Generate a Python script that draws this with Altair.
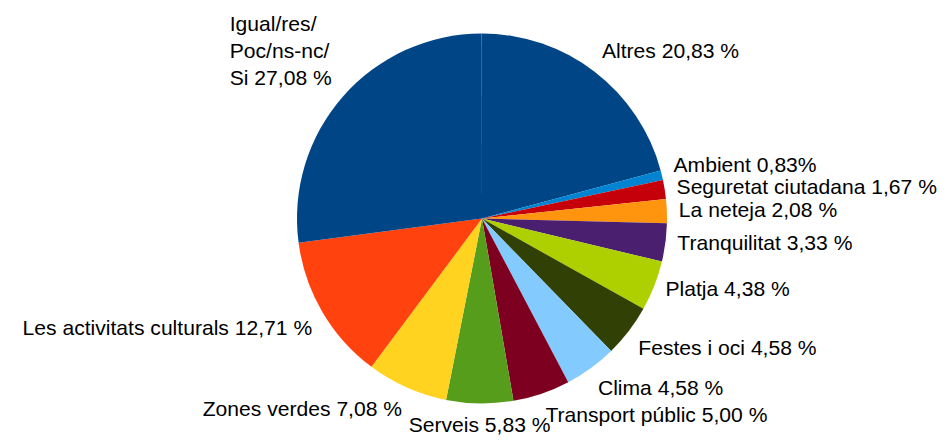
import math
import altair as alt
import pandas as pd

categories = ["Altres", "Ambient", "Seguretat ciutadana", "La neteja", "Tranquilitat",
              "Platja", "Festes i oci", "Clima", "Transport públic", "Serveis",
              "Zones verdes", "Les activitats culturals", "Igual/res/Poc/ns-nc/Si"]
values = [20.83, 0.83, 1.67, 2.08, 3.33, 4.38, 4.58, 4.58, 5.00, 5.83, 7.08, 12.71, 27.08]
labels = ["Altres 20,83 %", "Ambient 0,83%", "Seguretat ciutadana 1,67 %", "La neteja 2,08 %",
          "Tranquilitat 3,33 %", "Platja 4,38 %", "Festes i oci 4,58 %", "Clima 4,58 %",
          "Transport públic 5,00 %", "Serveis 5,83 %", "Zones verdes 7,08 %",
          "Les activitats culturals 12,71 %", "Igual/res/\nPoc/ns-nc/\nSi 27,08 %"]
colors = ["#004586", "#0084d1", "#c5000b", "#ff950e", "#4b1f6f", "#aecf00", "#314004",
          "#83caff", "#7e0021", "#579d1c", "#ffd320", "#ff420e", "#004586"]

# derived: mid position of each slice, and label anchoring side
mids, grps = [], []
cum = 0.0
for v, lab in zip(values, labels):
    m = cum + v / 2
    cum += v
    mids.append(m)
    ang = m / 100 * 2 * math.pi
    s, c = math.sin(ang), math.cos(ang)
    align = "left" if s > 0.1 else ("right" if s < -0.1 else "center")
    if c > 0.5:
        base = "bottom"
    elif c > 0.2:
        base = "alphabetic"
    elif c >= -0.5:
        base = "middle"
    else:
        base = "top"
    if "\n" in lab:
        grps.append("block")
    else:
        grps.append(f"{align}|{base}")

df = pd.DataFrame({"cat": categories, "value": values, "label": labels,
                   "mid": mids, "grp": grps, "idx": list(range(len(values)))})

CX, CY, R, RL = 474, 210.5, 185, 197
FS, LH = 21.1, 27
theta_scale = alt.Scale(domain=[0, 100], range=[0, 2 * math.pi])
color_scale = alt.Scale(domain=categories, range=colors)

base = alt.Chart(df)
pie = base.mark_arc(outerRadius=R).encode(
    theta=alt.Theta("value:Q", stack=True, scale=theta_scale),
    order=alt.Order("idx:Q"),
    color=alt.Color("cat:N", scale=color_scale, legend=None),
    x=alt.value(CX), y=alt.value(CY),
)

layers = [pie]
for g in sorted(set(grps)):
    if g == "block":
        mk = dict(align="left", baseline="bottom", dx=-104, dy=-2 * LH)
    else:
        a, b = g.split("|")
        mk = dict(align=a, baseline=b)
    t = base.transform_filter(alt.datum.grp == g).mark_text(
        radius=RL, font="Liberation Sans", fontSize=FS, color="#000000",
        lineBreak="\n", lineHeight=LH, **mk
    ).encode(
        theta=alt.Theta("mid:Q", stack=None, scale=theta_scale),
        text="label:N",
        x=alt.value(CX), y=alt.value(CY),
    )
    layers.append(t)

chart = alt.layer(*layers).properties(
    width=929, height=433, padding=0, autosize=alt.AutoSizeParams(type="none")
).configure_view(stroke=None)

chart.save("out.html", embed_options={"renderer": "svg", "actions": False})
